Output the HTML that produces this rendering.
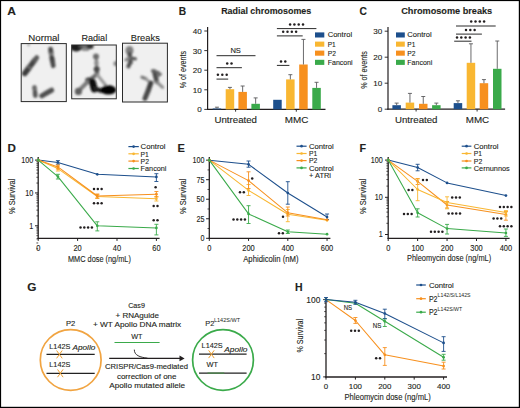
<!DOCTYPE html>
<html><head><meta charset="utf-8"><style>
html,body{margin:0;padding:0;background:#fff;}
svg{display:block;}
svg text{font-family:"Liberation Sans", sans-serif;stroke:#231f20;stroke-width:0.12px;paint-order:stroke;}
</style></head><body>
<svg width="520" height="408" viewBox="0 0 520 408">
<defs>
<filter id="bl" x="-20%" y="-20%" width="140%" height="140%"><feGaussianBlur stdDeviation="1.1"/></filter><filter id="bl2" x="-20%" y="-20%" width="140%" height="140%"><feGaussianBlur stdDeviation="1.2"/></filter>
</defs>
<rect x="0" y="0" width="520" height="408" fill="#fff"/>
<text x="7.3" y="15.4" font-size="10.4" font-weight="bold" textLength="8.7" lengthAdjust="spacingAndGlyphs" fill="#231f20">A</text>
<text x="28.3" y="40.7" font-size="9.7" textLength="31.2" lengthAdjust="spacingAndGlyphs" fill="#231f20">Normal</text>
<text x="81.4" y="40.7" font-size="9.7" textLength="25.8" lengthAdjust="spacingAndGlyphs" fill="#231f20">Radial</text>
<text x="130.8" y="40.7" font-size="9.7" textLength="29.0" lengthAdjust="spacingAndGlyphs" fill="#231f20">Breaks</text>
<clipPath id="cb0"><rect x="21.2" y="43.6" width="45.099999999999994" height="57.99999999999999"/></clipPath>
<rect x="21.2" y="43.6" width="45.099999999999994" height="57.99999999999999" fill="#f0f0f0"/>
<clipPath id="cb1"><rect x="71.7" y="45.0" width="44.599999999999994" height="53.8"/></clipPath>
<rect x="71.7" y="45.0" width="44.599999999999994" height="53.8" fill="#f0f0f0"/>
<clipPath id="cb2"><rect x="122.5" y="43.2" width="44.900000000000006" height="58.8"/></clipPath>
<rect x="122.5" y="43.2" width="44.900000000000006" height="58.8" fill="#f0f0f0"/>
<g clip-path="url(#cb0)"><g filter="url(#bl)" stroke-linecap="round" fill="none">
<path d="M24.8 73.4 L29.6 67.0" stroke="#3c3c3c" stroke-width="5.6"/>
<path d="M29.6 67.0 L31.4 64.6" stroke="#707070" stroke-width="4.0"/>
<path d="M31.4 64.6 L34.6 60.4" stroke="#444" stroke-width="5.4"/>
<path d="M34.8 60.2 L36.8 57.6" stroke="#5a5a5a" stroke-width="4.8"/>
<path d="M50.6 49.2 L51.2 53.6" stroke="#474747" stroke-width="4.8"/>
<path d="M51.3 54.6 L51.7 57.2" stroke="#7c7c7c" stroke-width="4.2"/>
<path d="M51.9 58.0 L52.5 61.2" stroke="#3e3e3e" stroke-width="4.9"/>
<path d="M52.6 62.2 L53.3 65.8" stroke="#4a4a4a" stroke-width="4.6"/>
<path d="M34.4 87.4 L34.7 89.4" stroke="#646464" stroke-width="4.6"/>
<path d="M34.9 90.6 L35.0 91.0" stroke="#888" stroke-width="3.2"/>
<path d="M35.0 92.0 L35.3 95.6" stroke="#545454" stroke-width="4.6"/>
<path d="M41.8 95.8 L45.6 93.6" stroke="#4e4e4e" stroke-width="5.0"/>
<path d="M46.6 93.0 L51.6 90.2" stroke="#505050" stroke-width="5.0"/>
<circle cx="28.6" cy="45.0" r="1.2" fill="#999"/>
</g></g>
<g clip-path="url(#cb1)"><g filter="url(#bl2)" stroke-linecap="round" fill="none">
<ellipse cx="76.2" cy="47.0" rx="6.4" ry="4.4" fill="#1a1a1a"/>
<path d="M80 46.2 L86 46.2" stroke="#555" stroke-width="3.0"/>
<ellipse cx="90.0" cy="46.3" rx="3.6" ry="2.8" fill="#333"/>
<path d="M83 49.5 L88 49.5" stroke="#777" stroke-width="2.5"/>
<path d="M96.2 56 L97.0 74.5" stroke="#8a8a8a" stroke-width="3.4"/>
<circle cx="96.0" cy="56.6" r="3.0" fill="#6a6a6a"/>
<circle cx="96.4" cy="63.0" r="2.3" fill="#8a8a8a"/>
<circle cx="96.7" cy="69.2" r="3.0" fill="#474747"/>
<circle cx="97.0" cy="73.6" r="2.4" fill="#5a5a5a"/>
<path d="M96.8 74.5 L88.5 80.6" stroke="#6a6a6a" stroke-width="3.8"/>
<circle cx="88.4" cy="80.8" r="3.2" fill="#333"/>
<path d="M88 81.5 L79 90.5" stroke="#7a7a7a" stroke-width="4.0"/>
<circle cx="78.4" cy="91.4" r="3.6" fill="#5e5e5e"/>
<path d="M97.5 75 L105.5 85" stroke="#9a9a9a" stroke-width="3.0"/>
<path d="M92.4 82.0 L94.2 89.0" stroke="#111" stroke-width="7.0"/>
<path d="M95 88.6 L101 90.6" stroke="#1a1a1a" stroke-width="4.6"/>
<ellipse cx="108.4" cy="89.9" rx="7.8" ry="4.6" fill="#050505"/>
<circle cx="116.0" cy="63.6" r="2.6" fill="#8a8a8a"/>
</g></g>
<g clip-path="url(#cb2)"><g filter="url(#bl)" stroke-linecap="round" fill="none">
<ellipse cx="129.5" cy="50.6" rx="4.0" ry="4.6" fill="#7e7e7e"/>
<path d="M129.6 54.0 L130.6 62.4" stroke="#4e4e4e" stroke-width="4.4"/>
<path d="M130.5 58.0 L135.4 58.8" stroke="#5a5a5a" stroke-width="3.2"/>
<path d="M129.0 58.2 L125.8 60.0" stroke="#808080" stroke-width="2.8"/>
<path d="M130.0 62.4 L128.4 66.4" stroke="#505050" stroke-width="4.0"/>
<path d="M154.3 71.6 L156.8 81.8" stroke="#484848" stroke-width="4.6"/>
<path d="M152.4 70.8 L158.6 72.6" stroke="#606060" stroke-width="3.0"/>
<path d="M157.8 76.2 L160.6 74.2" stroke="#6a6a6a" stroke-width="2.8"/>
<path d="M157.0 82.2 L162.6 87.4" stroke="#8a8a8a" stroke-width="3.0"/>
<path d="M142.0 77.2 L146.0 78.8" stroke="#777" stroke-width="3.2"/>
<path d="M146.4 79.4 L149.0 81.6" stroke="#999" stroke-width="2.8"/>
<path d="M150.8 83.0 L148.4 90.0" stroke="#3e3e3e" stroke-width="5.0"/>
<path d="M148.4 90.0 L145.0 98.4" stroke="#484848" stroke-width="5.0"/>
</g></g>
<rect x="21.2" y="43.6" width="45.099999999999994" height="57.99999999999999" fill="none" stroke="#2a2a2a" stroke-width="1"/>
<rect x="71.7" y="45.0" width="44.599999999999994" height="53.8" fill="none" stroke="#2a2a2a" stroke-width="1"/>
<rect x="122.5" y="43.2" width="44.900000000000006" height="58.8" fill="none" stroke="#2a2a2a" stroke-width="1"/>
<line x1="207.6" y1="110.0" x2="207.6" y2="27.0" stroke="#231f20" stroke-width="1.2"/>
<line x1="207.0" y1="109.4" x2="325.5" y2="109.4" stroke="#231f20" stroke-width="1.2"/>
<line x1="204.29999999999998" y1="109.4" x2="207.6" y2="109.4" stroke="#231f20" stroke-width="0.9"/>
<text x="201.7" y="112.30000000000001" font-size="8.1" text-anchor="end" fill="#231f20">0</text>
<line x1="204.29999999999998" y1="89.80000000000001" x2="207.6" y2="89.80000000000001" stroke="#231f20" stroke-width="0.9"/>
<text x="201.7" y="92.70000000000002" font-size="8.1" text-anchor="end" fill="#231f20">10</text>
<line x1="204.29999999999998" y1="70.2" x2="207.6" y2="70.2" stroke="#231f20" stroke-width="0.9"/>
<text x="201.7" y="73.10000000000001" font-size="8.1" text-anchor="end" fill="#231f20">20</text>
<line x1="204.29999999999998" y1="50.60000000000001" x2="207.6" y2="50.60000000000001" stroke="#231f20" stroke-width="0.9"/>
<text x="201.7" y="53.50000000000001" font-size="8.1" text-anchor="end" fill="#231f20">30</text>
<line x1="204.29999999999998" y1="31.0" x2="207.6" y2="31.0" stroke="#231f20" stroke-width="0.9"/>
<text x="201.7" y="33.9" font-size="8.1" text-anchor="end" fill="#231f20">40</text>
<line x1="235.6" y1="109.4" x2="235.6" y2="111.7" stroke="#231f20" stroke-width="0.9"/>
<line x1="296.3" y1="109.4" x2="296.3" y2="111.7" stroke="#231f20" stroke-width="0.9"/>
<text x="214.5" y="122.6" font-size="8.9" textLength="42.5" lengthAdjust="spacingAndGlyphs" fill="#231f20">Untreated</text>
<text x="284.8" y="122.6" font-size="8.9" textLength="23.6" lengthAdjust="spacingAndGlyphs" fill="#231f20">MMC</text>
<rect x="212.7" y="108.5" width="8.5" height="0.9000000000000057" fill="#1d4f8c"/>
<line x1="216.95" y1="108.5" x2="216.95" y2="107.2" stroke="#5a5a5c" stroke-width="0.9"/>
<line x1="214.95" y1="107.2" x2="218.95" y2="107.2" stroke="#5a5a5c" stroke-width="0.9"/>
<rect x="225.7" y="89.2" width="8.5" height="20.200000000000003" fill="#f9b732"/>
<line x1="229.95" y1="89.2" x2="229.95" y2="87.4" stroke="#5a5a5c" stroke-width="0.9"/>
<line x1="227.95" y1="87.4" x2="231.95" y2="87.4" stroke="#5a5a5c" stroke-width="0.9"/>
<rect x="238.4" y="91.9" width="8.5" height="17.5" fill="#f7901e"/>
<line x1="242.65" y1="91.9" x2="242.65" y2="86.0" stroke="#5a5a5c" stroke-width="0.9"/>
<line x1="240.65" y1="86.0" x2="244.65" y2="86.0" stroke="#5a5a5c" stroke-width="0.9"/>
<rect x="251.4" y="103.8" width="8.5" height="5.6000000000000085" fill="#3aaa4a"/>
<line x1="255.65" y1="103.8" x2="255.65" y2="97.9" stroke="#5a5a5c" stroke-width="0.9"/>
<line x1="253.65" y1="97.9" x2="257.65" y2="97.9" stroke="#5a5a5c" stroke-width="0.9"/>
<rect x="273.2" y="99.8" width="8.5" height="9.600000000000009" fill="#1d4f8c"/>
<rect x="286.1" y="79.4" width="8.5" height="30.0" fill="#f9b732"/>
<line x1="290.35" y1="79.4" x2="290.35" y2="74.7" stroke="#5a5a5c" stroke-width="0.9"/>
<line x1="288.35" y1="74.7" x2="292.35" y2="74.7" stroke="#5a5a5c" stroke-width="0.9"/>
<rect x="299.2" y="64.5" width="8.5" height="44.900000000000006" fill="#f7901e"/>
<line x1="303.45" y1="64.5" x2="303.45" y2="39.4" stroke="#5a5a5c" stroke-width="0.9"/>
<line x1="301.45" y1="39.4" x2="305.45" y2="39.4" stroke="#5a5a5c" stroke-width="0.9"/>
<rect x="312.3" y="87.9" width="8.5" height="21.5" fill="#3aaa4a"/>
<line x1="316.55" y1="87.9" x2="316.55" y2="82.3" stroke="#5a5a5c" stroke-width="0.9"/>
<line x1="314.55" y1="82.3" x2="318.55" y2="82.3" stroke="#5a5a5c" stroke-width="0.9"/>
<text x="221.2" y="14.4" font-size="9.3" font-weight="bold" textLength="90.0" lengthAdjust="spacingAndGlyphs" fill="#231f20">Radial chromosomes</text>
<text x="178.8" y="15.1" font-size="10" font-weight="bold" textLength="7.4" lengthAdjust="spacingAndGlyphs" fill="#231f20">B</text>
<text x="0" y="0" font-size="8.6" text-anchor="middle" textLength="37.5" lengthAdjust="spacingAndGlyphs" fill="#231f20" transform="translate(186.3,69.6) rotate(-90)">% of events</text>
<rect x="315.0" y="32.4" width="9.3" height="5.1" fill="#1d4f8c"/>
<text x="327.7" y="37.4" font-size="7.9" textLength="24.4" lengthAdjust="spacingAndGlyphs" fill="#231f20">Control</text>
<rect x="315.0" y="41.6" width="9.3" height="5.1" fill="#f9b732"/>
<text x="327.7" y="46.6" font-size="7.9" textLength="8.0" lengthAdjust="spacingAndGlyphs" fill="#231f20">P1</text>
<rect x="315.0" y="50.6" width="9.3" height="5.1" fill="#f7901e"/>
<text x="327.7" y="55.6" font-size="7.9" textLength="8.2" lengthAdjust="spacingAndGlyphs" fill="#231f20">P2</text>
<rect x="315.0" y="59.8" width="9.3" height="5.1" fill="#3aaa4a"/>
<text x="327.7" y="64.8" font-size="7.9" textLength="25.0" lengthAdjust="spacingAndGlyphs" fill="#231f20">Fanconi</text>
<line x1="216.5" y1="55.7" x2="255.5" y2="55.7" stroke="#2a2a2a" stroke-width="1.0"/>
<text x="230.4" y="53.0" font-size="7.8" textLength="10.5" lengthAdjust="spacingAndGlyphs" fill="#231f20">NS</text>
<line x1="216.5" y1="67.7" x2="241.9" y2="67.7" stroke="#2a2a2a" stroke-width="1.0"/>
<circle cx="227.20" cy="63.60" r="1.25" fill="#231f20"/>
<circle cx="231.50" cy="63.60" r="1.25" fill="#231f20"/>
<line x1="216.5" y1="79.1" x2="228.2" y2="79.1" stroke="#2a2a2a" stroke-width="1.0"/>
<circle cx="217.90" cy="74.80" r="1.25" fill="#231f20"/>
<circle cx="222.30" cy="74.80" r="1.25" fill="#231f20"/>
<circle cx="226.70" cy="74.80" r="1.25" fill="#231f20"/>
<line x1="276.9" y1="28.6" x2="316.4" y2="28.6" stroke="#2a2a2a" stroke-width="1.0"/>
<circle cx="290.10" cy="24.50" r="1.25" fill="#231f20"/>
<circle cx="294.40" cy="24.50" r="1.25" fill="#231f20"/>
<circle cx="298.70" cy="24.50" r="1.25" fill="#231f20"/>
<circle cx="303.00" cy="24.50" r="1.25" fill="#231f20"/>
<line x1="276.9" y1="35.9" x2="302.7" y2="35.9" stroke="#2a2a2a" stroke-width="1.0"/>
<circle cx="283.20" cy="31.80" r="1.25" fill="#231f20"/>
<circle cx="287.50" cy="31.80" r="1.25" fill="#231f20"/>
<circle cx="291.80" cy="31.80" r="1.25" fill="#231f20"/>
<circle cx="296.10" cy="31.80" r="1.25" fill="#231f20"/>
<line x1="276.9" y1="65.4" x2="289.4" y2="65.4" stroke="#2a2a2a" stroke-width="1.0"/>
<circle cx="281.00" cy="61.40" r="1.25" fill="#231f20"/>
<circle cx="285.30" cy="61.40" r="1.25" fill="#231f20"/>
<line x1="388.0" y1="109.8" x2="388.0" y2="27.0" stroke="#231f20" stroke-width="1.2"/>
<line x1="387.4" y1="109.2" x2="505.1" y2="109.2" stroke="#231f20" stroke-width="1.2"/>
<line x1="384.7" y1="109.2" x2="388.0" y2="109.2" stroke="#231f20" stroke-width="0.9"/>
<text x="382.2" y="112.10000000000001" font-size="8.1" text-anchor="end" fill="#231f20">0</text>
<line x1="384.7" y1="83.2" x2="388.0" y2="83.2" stroke="#231f20" stroke-width="0.9"/>
<text x="382.2" y="86.10000000000001" font-size="8.1" text-anchor="end" fill="#231f20">10</text>
<line x1="384.7" y1="57.2" x2="388.0" y2="57.2" stroke="#231f20" stroke-width="0.9"/>
<text x="382.2" y="60.1" font-size="8.1" text-anchor="end" fill="#231f20">20</text>
<line x1="384.7" y1="31.200000000000003" x2="388.0" y2="31.200000000000003" stroke="#231f20" stroke-width="0.9"/>
<text x="382.2" y="34.1" font-size="8.1" text-anchor="end" fill="#231f20">30</text>
<line x1="416.1" y1="109.2" x2="416.1" y2="111.5" stroke="#231f20" stroke-width="0.9"/>
<line x1="477.1" y1="109.2" x2="477.1" y2="111.5" stroke="#231f20" stroke-width="0.9"/>
<text x="395.0" y="122.6" font-size="8.9" textLength="42.5" lengthAdjust="spacingAndGlyphs" fill="#231f20">Untreated</text>
<text x="465.8" y="122.6" font-size="8.9" textLength="23.4" lengthAdjust="spacingAndGlyphs" fill="#231f20">MMC</text>
<rect x="392.4" y="105.2" width="8.5" height="4.0" fill="#1d4f8c"/>
<line x1="396.65" y1="105.2" x2="396.65" y2="103.1" stroke="#5a5a5c" stroke-width="0.9"/>
<line x1="394.65" y1="103.1" x2="398.65" y2="103.1" stroke="#5a5a5c" stroke-width="0.9"/>
<rect x="405.7" y="102.6" width="8.5" height="6.6000000000000085" fill="#f9b732"/>
<line x1="409.95" y1="102.6" x2="409.95" y2="93.4" stroke="#5a5a5c" stroke-width="0.9"/>
<line x1="407.95" y1="93.4" x2="411.95" y2="93.4" stroke="#5a5a5c" stroke-width="0.9"/>
<rect x="419.0" y="103.8" width="8.5" height="5.400000000000006" fill="#f7901e"/>
<line x1="423.25" y1="103.8" x2="423.25" y2="96.5" stroke="#5a5a5c" stroke-width="0.9"/>
<line x1="421.25" y1="96.5" x2="425.25" y2="96.5" stroke="#5a5a5c" stroke-width="0.9"/>
<rect x="432.1" y="105.2" width="8.5" height="4.0" fill="#3aaa4a"/>
<line x1="436.35" y1="105.2" x2="436.35" y2="103.1" stroke="#5a5a5c" stroke-width="0.9"/>
<line x1="434.35" y1="103.1" x2="438.35" y2="103.1" stroke="#5a5a5c" stroke-width="0.9"/>
<rect x="453.7" y="103.1" width="8.5" height="6.1000000000000085" fill="#1d4f8c"/>
<line x1="457.95" y1="103.1" x2="457.95" y2="100.8" stroke="#5a5a5c" stroke-width="0.9"/>
<line x1="455.95" y1="100.8" x2="459.95" y2="100.8" stroke="#5a5a5c" stroke-width="0.9"/>
<rect x="466.7" y="62.8" width="8.5" height="46.400000000000006" fill="#f9b732"/>
<line x1="470.95" y1="62.8" x2="470.95" y2="43.8" stroke="#5a5a5c" stroke-width="0.9"/>
<line x1="468.95" y1="43.8" x2="472.95" y2="43.8" stroke="#5a5a5c" stroke-width="0.9"/>
<rect x="479.7" y="83.2" width="8.5" height="26.0" fill="#f7901e"/>
<line x1="483.95" y1="83.2" x2="483.95" y2="79.6" stroke="#5a5a5c" stroke-width="0.9"/>
<line x1="481.95" y1="79.6" x2="485.95" y2="79.6" stroke="#5a5a5c" stroke-width="0.9"/>
<rect x="493.0" y="68.8" width="8.5" height="40.400000000000006" fill="#3aaa4a"/>
<line x1="497.25" y1="68.8" x2="497.25" y2="41.0" stroke="#5a5a5c" stroke-width="0.9"/>
<line x1="495.25" y1="41.0" x2="499.25" y2="41.0" stroke="#5a5a5c" stroke-width="0.9"/>
<text x="401.2" y="14.4" font-size="9.3" font-weight="bold" textLength="91.0" lengthAdjust="spacingAndGlyphs" fill="#231f20">Chromosome breaks</text>
<text x="359.4" y="15.1" font-size="10" font-weight="bold" textLength="7.4" lengthAdjust="spacingAndGlyphs" fill="#231f20">C</text>
<text x="0" y="0" font-size="8.6" text-anchor="middle" textLength="37.5" lengthAdjust="spacingAndGlyphs" fill="#231f20" transform="translate(367.4,70.0) rotate(-90)">% of events</text>
<rect x="396.0" y="32.4" width="8.8" height="5.1" fill="#1d4f8c"/>
<text x="407.3" y="37.4" font-size="7.9" textLength="24.4" lengthAdjust="spacingAndGlyphs" fill="#231f20">Control</text>
<rect x="396.0" y="41.6" width="8.8" height="5.1" fill="#f9b732"/>
<text x="407.3" y="46.6" font-size="7.9" textLength="8.0" lengthAdjust="spacingAndGlyphs" fill="#231f20">P1</text>
<rect x="396.0" y="50.6" width="8.8" height="5.1" fill="#f7901e"/>
<text x="407.3" y="55.6" font-size="7.9" textLength="8.2" lengthAdjust="spacingAndGlyphs" fill="#231f20">P2</text>
<rect x="396.0" y="59.8" width="8.8" height="5.1" fill="#3aaa4a"/>
<text x="407.3" y="64.8" font-size="7.9" textLength="25.0" lengthAdjust="spacingAndGlyphs" fill="#231f20">Fanconi</text>
<line x1="456.0" y1="26.0" x2="495.7" y2="26.0" stroke="#2a2a2a" stroke-width="1.0"/>
<circle cx="471.20" cy="21.60" r="1.25" fill="#231f20"/>
<circle cx="475.50" cy="21.60" r="1.25" fill="#231f20"/>
<circle cx="479.80" cy="21.60" r="1.25" fill="#231f20"/>
<circle cx="484.10" cy="21.60" r="1.25" fill="#231f20"/>
<line x1="456.0" y1="34.1" x2="481.9" y2="34.1" stroke="#2a2a2a" stroke-width="1.0"/>
<circle cx="466.00" cy="29.90" r="1.25" fill="#231f20"/>
<circle cx="470.30" cy="29.90" r="1.25" fill="#231f20"/>
<circle cx="474.60" cy="29.90" r="1.25" fill="#231f20"/>
<line x1="454.2" y1="41.2" x2="471.5" y2="41.2" stroke="#2a2a2a" stroke-width="1.0"/>
<circle cx="457.00" cy="37.50" r="1.25" fill="#231f20"/>
<circle cx="461.30" cy="37.50" r="1.25" fill="#231f20"/>
<circle cx="465.60" cy="37.50" r="1.25" fill="#231f20"/>
<circle cx="469.90" cy="37.50" r="1.25" fill="#231f20"/>
<text x="7.6" y="152.1" font-size="10" font-weight="bold" textLength="8.4" lengthAdjust="spacingAndGlyphs" fill="#231f20">D</text>
<line x1="38.2" y1="238.9" x2="38.2" y2="157.0" stroke="#231f20" stroke-width="1.3"/>
<line x1="37.6" y1="238.3" x2="159.6" y2="238.3" stroke="#231f20" stroke-width="1.3"/>
<line x1="35.0" y1="160.1" x2="38.2" y2="160.1" stroke="#231f20" stroke-width="1.0"/>
<text x="33.2" y="163.0" font-size="8.2" text-anchor="end" textLength="12.0" lengthAdjust="spacingAndGlyphs" fill="#231f20">100</text>
<line x1="35.0" y1="192.95" x2="38.2" y2="192.95" stroke="#231f20" stroke-width="1.0"/>
<text x="33.2" y="195.85" font-size="8.2" text-anchor="end" textLength="8.0" lengthAdjust="spacingAndGlyphs" fill="#231f20">10</text>
<line x1="35.0" y1="225.8" x2="38.2" y2="225.8" stroke="#231f20" stroke-width="1.0"/>
<text x="33.2" y="228.70000000000002" font-size="8.2" text-anchor="end" textLength="4.0" lengthAdjust="spacingAndGlyphs" fill="#231f20">1</text>
<line x1="36.400000000000006" y1="248.76116464243822" x2="38.2" y2="248.76116464243822" stroke="#231f20" stroke-width="0.8"/>
<line x1="36.400000000000006" y1="242.9765667824591" x2="38.2" y2="242.9765667824591" stroke="#231f20" stroke-width="0.8"/>
<line x1="36.400000000000006" y1="238.87232928487643" x2="38.2" y2="238.87232928487643" stroke="#231f20" stroke-width="0.8"/>
<line x1="36.400000000000006" y1="235.6888353575618" x2="38.2" y2="235.6888353575618" stroke="#231f20" stroke-width="0.8"/>
<line x1="36.400000000000006" y1="233.0877314248973" x2="38.2" y2="233.0877314248973" stroke="#231f20" stroke-width="0.8"/>
<line x1="36.400000000000006" y1="230.88852938553165" x2="38.2" y2="230.88852938553165" stroke="#231f20" stroke-width="0.8"/>
<line x1="36.400000000000006" y1="228.98349392731464" x2="38.2" y2="228.98349392731464" stroke="#231f20" stroke-width="0.8"/>
<line x1="36.400000000000006" y1="227.3031335649182" x2="38.2" y2="227.3031335649182" stroke="#231f20" stroke-width="0.8"/>
<line x1="36.400000000000006" y1="215.91116464243822" x2="38.2" y2="215.91116464243822" stroke="#231f20" stroke-width="0.8"/>
<line x1="36.400000000000006" y1="210.1265667824591" x2="38.2" y2="210.1265667824591" stroke="#231f20" stroke-width="0.8"/>
<line x1="36.400000000000006" y1="206.02232928487643" x2="38.2" y2="206.02232928487643" stroke="#231f20" stroke-width="0.8"/>
<line x1="36.400000000000006" y1="202.83883535756178" x2="38.2" y2="202.83883535756178" stroke="#231f20" stroke-width="0.8"/>
<line x1="36.400000000000006" y1="200.2377314248973" x2="38.2" y2="200.2377314248973" stroke="#231f20" stroke-width="0.8"/>
<line x1="36.400000000000006" y1="198.03852938553166" x2="38.2" y2="198.03852938553166" stroke="#231f20" stroke-width="0.8"/>
<line x1="36.400000000000006" y1="196.13349392731465" x2="38.2" y2="196.13349392731465" stroke="#231f20" stroke-width="0.8"/>
<line x1="36.400000000000006" y1="194.45313356491818" x2="38.2" y2="194.45313356491818" stroke="#231f20" stroke-width="0.8"/>
<line x1="36.400000000000006" y1="183.0611646424382" x2="38.2" y2="183.0611646424382" stroke="#231f20" stroke-width="0.8"/>
<line x1="36.400000000000006" y1="177.2765667824591" x2="38.2" y2="177.2765667824591" stroke="#231f20" stroke-width="0.8"/>
<line x1="36.400000000000006" y1="173.1723292848764" x2="38.2" y2="173.1723292848764" stroke="#231f20" stroke-width="0.8"/>
<line x1="36.400000000000006" y1="169.98883535756178" x2="38.2" y2="169.98883535756178" stroke="#231f20" stroke-width="0.8"/>
<line x1="36.400000000000006" y1="167.3877314248973" x2="38.2" y2="167.3877314248973" stroke="#231f20" stroke-width="0.8"/>
<line x1="36.400000000000006" y1="165.18852938553167" x2="38.2" y2="165.18852938553167" stroke="#231f20" stroke-width="0.8"/>
<line x1="36.400000000000006" y1="163.28349392731465" x2="38.2" y2="163.28349392731465" stroke="#231f20" stroke-width="0.8"/>
<line x1="36.400000000000006" y1="161.60313356491818" x2="38.2" y2="161.60313356491818" stroke="#231f20" stroke-width="0.8"/>
<line x1="38.2" y1="238.3" x2="38.2" y2="240.9" stroke="#231f20" stroke-width="1.0"/>
<text x="38.2" y="250.8" font-size="8.3" text-anchor="middle" textLength="4.15" lengthAdjust="spacingAndGlyphs" fill="#231f20">0</text>
<line x1="77.6" y1="238.3" x2="77.6" y2="240.9" stroke="#231f20" stroke-width="1.0"/>
<text x="77.6" y="250.8" font-size="8.3" text-anchor="middle" textLength="8.3" lengthAdjust="spacingAndGlyphs" fill="#231f20">20</text>
<line x1="117.0" y1="238.3" x2="117.0" y2="240.9" stroke="#231f20" stroke-width="1.0"/>
<text x="117.0" y="250.8" font-size="8.3" text-anchor="middle" textLength="8.3" lengthAdjust="spacingAndGlyphs" fill="#231f20">40</text>
<line x1="156.4" y1="238.3" x2="156.4" y2="240.9" stroke="#231f20" stroke-width="1.0"/>
<text x="156.4" y="250.8" font-size="8.3" text-anchor="middle" textLength="8.3" lengthAdjust="spacingAndGlyphs" fill="#231f20">60</text>
<text x="0" y="0" font-size="9.0" text-anchor="middle" textLength="35.3" lengthAdjust="spacingAndGlyphs" fill="#231f20" transform="translate(15.0,196.3) rotate(-90)">% Survival</text>
<text x="68.0" y="262.2" font-size="9.2" textLength="62.9" lengthAdjust="spacingAndGlyphs" fill="#231f20">MMC dose (ng/mL)</text>
<path d="M38.20 160.10 L57.90 162.40 L97.30 174.30 L156.40 176.90" fill="none" stroke="#1d4f8c" stroke-width="1.05" stroke-linejoin="round"/>
<line x1="57.900000000000006" y1="160.6" x2="57.900000000000006" y2="164.2" stroke="#1d4f8c" stroke-width="0.9"/>
<line x1="55.900000000000006" y1="160.6" x2="59.900000000000006" y2="160.6" stroke="#1d4f8c" stroke-width="0.9"/>
<line x1="55.900000000000006" y1="164.2" x2="59.900000000000006" y2="164.2" stroke="#1d4f8c" stroke-width="0.9"/>
<line x1="156.4" y1="173.7" x2="156.4" y2="181.5" stroke="#1d4f8c" stroke-width="0.9"/>
<line x1="154.4" y1="173.7" x2="158.4" y2="173.7" stroke="#1d4f8c" stroke-width="0.9"/>
<line x1="154.4" y1="181.5" x2="158.4" y2="181.5" stroke="#1d4f8c" stroke-width="0.9"/>
<circle cx="38.20" cy="160.10" r="1.35" fill="#1d4f8c"/>
<circle cx="57.90" cy="162.40" r="1.35" fill="#1d4f8c"/>
<circle cx="97.30" cy="174.30" r="1.35" fill="#1d4f8c"/>
<circle cx="156.40" cy="176.90" r="1.35" fill="#1d4f8c"/>
<path d="M38.20 160.10 L57.90 168.60 L97.30 196.50 L156.40 198.80" fill="none" stroke="#f9b732" stroke-width="1.05" stroke-linejoin="round"/>
<line x1="57.900000000000006" y1="166.2" x2="57.900000000000006" y2="171.0" stroke="#f9b732" stroke-width="0.9"/>
<line x1="55.900000000000006" y1="166.2" x2="59.900000000000006" y2="166.2" stroke="#f9b732" stroke-width="0.9"/>
<line x1="55.900000000000006" y1="171.0" x2="59.900000000000006" y2="171.0" stroke="#f9b732" stroke-width="0.9"/>
<line x1="97.30000000000001" y1="194.5" x2="97.30000000000001" y2="198.5" stroke="#f9b732" stroke-width="0.9"/>
<line x1="95.30000000000001" y1="194.5" x2="99.30000000000001" y2="194.5" stroke="#f9b732" stroke-width="0.9"/>
<line x1="95.30000000000001" y1="198.5" x2="99.30000000000001" y2="198.5" stroke="#f9b732" stroke-width="0.9"/>
<line x1="156.4" y1="196.5" x2="156.4" y2="201.0" stroke="#f9b732" stroke-width="0.9"/>
<line x1="154.4" y1="196.5" x2="158.4" y2="196.5" stroke="#f9b732" stroke-width="0.9"/>
<line x1="154.4" y1="201.0" x2="158.4" y2="201.0" stroke="#f9b732" stroke-width="0.9"/>
<circle cx="38.20" cy="160.10" r="1.35" fill="#f9b732"/>
<circle cx="57.90" cy="168.60" r="1.35" fill="#f9b732"/>
<circle cx="97.30" cy="196.50" r="1.35" fill="#f9b732"/>
<circle cx="156.40" cy="198.80" r="1.35" fill="#f9b732"/>
<path d="M38.20 160.10 L57.90 166.90 L97.30 196.00 L156.40 194.20" fill="none" stroke="#f7901e" stroke-width="1.05" stroke-linejoin="round"/>
<line x1="57.900000000000006" y1="165.0" x2="57.900000000000006" y2="169.0" stroke="#f7901e" stroke-width="0.9"/>
<line x1="55.900000000000006" y1="165.0" x2="59.900000000000006" y2="165.0" stroke="#f7901e" stroke-width="0.9"/>
<line x1="55.900000000000006" y1="169.0" x2="59.900000000000006" y2="169.0" stroke="#f7901e" stroke-width="0.9"/>
<line x1="97.30000000000001" y1="194.0" x2="97.30000000000001" y2="198.0" stroke="#f7901e" stroke-width="0.9"/>
<line x1="95.30000000000001" y1="194.0" x2="99.30000000000001" y2="194.0" stroke="#f7901e" stroke-width="0.9"/>
<line x1="95.30000000000001" y1="198.0" x2="99.30000000000001" y2="198.0" stroke="#f7901e" stroke-width="0.9"/>
<line x1="156.4" y1="191.5" x2="156.4" y2="197.0" stroke="#f7901e" stroke-width="0.9"/>
<line x1="154.4" y1="191.5" x2="158.4" y2="191.5" stroke="#f7901e" stroke-width="0.9"/>
<line x1="154.4" y1="197.0" x2="158.4" y2="197.0" stroke="#f7901e" stroke-width="0.9"/>
<circle cx="38.20" cy="160.10" r="1.35" fill="#f7901e"/>
<circle cx="57.90" cy="166.90" r="1.35" fill="#f7901e"/>
<circle cx="97.30" cy="196.00" r="1.35" fill="#f7901e"/>
<circle cx="156.40" cy="194.20" r="1.35" fill="#f7901e"/>
<path d="M38.20 160.10 L57.90 176.60 L97.30 225.80 L156.40 227.90" fill="none" stroke="#3aaa4a" stroke-width="1.05" stroke-linejoin="round"/>
<line x1="57.900000000000006" y1="174.3" x2="57.900000000000006" y2="179.0" stroke="#3aaa4a" stroke-width="0.9"/>
<line x1="55.900000000000006" y1="174.3" x2="59.900000000000006" y2="174.3" stroke="#3aaa4a" stroke-width="0.9"/>
<line x1="55.900000000000006" y1="179.0" x2="59.900000000000006" y2="179.0" stroke="#3aaa4a" stroke-width="0.9"/>
<line x1="97.30000000000001" y1="221.8" x2="97.30000000000001" y2="230.9" stroke="#3aaa4a" stroke-width="0.9"/>
<line x1="95.30000000000001" y1="221.8" x2="99.30000000000001" y2="221.8" stroke="#3aaa4a" stroke-width="0.9"/>
<line x1="95.30000000000001" y1="230.9" x2="99.30000000000001" y2="230.9" stroke="#3aaa4a" stroke-width="0.9"/>
<line x1="156.4" y1="224.3" x2="156.4" y2="234.9" stroke="#3aaa4a" stroke-width="0.9"/>
<line x1="154.4" y1="224.3" x2="158.4" y2="224.3" stroke="#3aaa4a" stroke-width="0.9"/>
<line x1="154.4" y1="234.9" x2="158.4" y2="234.9" stroke="#3aaa4a" stroke-width="0.9"/>
<circle cx="38.20" cy="160.10" r="1.35" fill="#3aaa4a"/>
<circle cx="57.90" cy="176.60" r="1.35" fill="#3aaa4a"/>
<circle cx="97.30" cy="225.80" r="1.35" fill="#3aaa4a"/>
<circle cx="156.40" cy="227.90" r="1.35" fill="#3aaa4a"/>
<line x1="128.4" y1="146.6" x2="138.8" y2="146.6" stroke="#1d4f8c" stroke-width="1.2"/>
<circle cx="133.60" cy="146.6" r="1.35" fill="#1d4f8c"/>
<text x="140.6" y="149.35" font-size="7.9" textLength="25.0" lengthAdjust="spacingAndGlyphs" fill="#231f20">Control</text>
<line x1="128.4" y1="153.8" x2="138.8" y2="153.8" stroke="#f9b732" stroke-width="1.2"/>
<circle cx="133.60" cy="153.8" r="1.35" fill="#f9b732"/>
<text x="140.6" y="156.55" font-size="7.9" textLength="8.2" lengthAdjust="spacingAndGlyphs" fill="#231f20">P1</text>
<line x1="128.4" y1="161.1" x2="138.8" y2="161.1" stroke="#f7901e" stroke-width="1.2"/>
<circle cx="133.60" cy="161.1" r="1.35" fill="#f7901e"/>
<text x="140.6" y="163.85" font-size="7.9" textLength="8.4" lengthAdjust="spacingAndGlyphs" fill="#231f20">P2</text>
<line x1="128.4" y1="168.5" x2="138.8" y2="168.5" stroke="#3aaa4a" stroke-width="1.2"/>
<circle cx="133.60" cy="168.5" r="1.35" fill="#3aaa4a"/>
<text x="140.6" y="171.25" font-size="7.9" textLength="25.9" lengthAdjust="spacingAndGlyphs" fill="#231f20">Fanconi</text>
<circle cx="94.00" cy="189.00" r="1.25" fill="#231f20"/>
<circle cx="97.80" cy="189.00" r="1.25" fill="#231f20"/>
<circle cx="101.60" cy="189.00" r="1.25" fill="#231f20"/>
<circle cx="94.00" cy="203.30" r="1.25" fill="#231f20"/>
<circle cx="97.80" cy="203.30" r="1.25" fill="#231f20"/>
<circle cx="101.60" cy="203.30" r="1.25" fill="#231f20"/>
<circle cx="155.60" cy="187.30" r="1.25" fill="#231f20"/>
<circle cx="153.70" cy="206.00" r="1.25" fill="#231f20"/>
<circle cx="157.50" cy="206.00" r="1.25" fill="#231f20"/>
<circle cx="153.70" cy="220.30" r="1.25" fill="#231f20"/>
<circle cx="157.50" cy="220.30" r="1.25" fill="#231f20"/>
<circle cx="80.50" cy="227.60" r="1.25" fill="#231f20"/>
<circle cx="84.30" cy="227.60" r="1.25" fill="#231f20"/>
<circle cx="88.10" cy="227.60" r="1.25" fill="#231f20"/>
<circle cx="91.90" cy="227.60" r="1.25" fill="#231f20"/>
<text x="177.6" y="152.1" font-size="10" font-weight="bold" textLength="7.4" lengthAdjust="spacingAndGlyphs" fill="#231f20">E</text>
<line x1="209.3" y1="238.9" x2="209.3" y2="157.0" stroke="#231f20" stroke-width="1.3"/>
<line x1="208.70000000000002" y1="238.3" x2="330.4" y2="238.3" stroke="#231f20" stroke-width="1.3"/>
<line x1="206.10000000000002" y1="160.15000000000003" x2="209.3" y2="160.15000000000003" stroke="#231f20" stroke-width="1.0"/>
<text x="204.4" y="163.05000000000004" font-size="8.2" text-anchor="end" textLength="12.0" lengthAdjust="spacingAndGlyphs" fill="#231f20">100</text>
<line x1="206.10000000000002" y1="179.6875" x2="209.3" y2="179.6875" stroke="#231f20" stroke-width="1.0"/>
<text x="204.4" y="182.5875" font-size="8.2" text-anchor="end" textLength="8.0" lengthAdjust="spacingAndGlyphs" fill="#231f20">75</text>
<line x1="206.10000000000002" y1="199.22500000000002" x2="209.3" y2="199.22500000000002" stroke="#231f20" stroke-width="1.0"/>
<text x="204.4" y="202.12500000000003" font-size="8.2" text-anchor="end" textLength="8.0" lengthAdjust="spacingAndGlyphs" fill="#231f20">50</text>
<line x1="206.10000000000002" y1="218.76250000000002" x2="209.3" y2="218.76250000000002" stroke="#231f20" stroke-width="1.0"/>
<text x="204.4" y="221.66250000000002" font-size="8.2" text-anchor="end" textLength="8.0" lengthAdjust="spacingAndGlyphs" fill="#231f20">25</text>
<line x1="206.10000000000002" y1="238.3" x2="209.3" y2="238.3" stroke="#231f20" stroke-width="1.0"/>
<text x="204.4" y="241.20000000000002" font-size="8.2" text-anchor="end" textLength="4.0" lengthAdjust="spacingAndGlyphs" fill="#231f20">0</text>
<line x1="207.5" y1="169.91875000000002" x2="209.3" y2="169.91875000000002" stroke="#231f20" stroke-width="0.8"/>
<line x1="207.5" y1="189.45625" x2="209.3" y2="189.45625" stroke="#231f20" stroke-width="0.8"/>
<line x1="207.5" y1="208.99375" x2="209.3" y2="208.99375" stroke="#231f20" stroke-width="0.8"/>
<line x1="207.5" y1="228.53125" x2="209.3" y2="228.53125" stroke="#231f20" stroke-width="0.8"/>
<line x1="209.3" y1="238.3" x2="209.3" y2="240.9" stroke="#231f20" stroke-width="1.0"/>
<text x="209.3" y="250.8" font-size="8.3" text-anchor="middle" textLength="4.15" lengthAdjust="spacingAndGlyphs" fill="#231f20">0</text>
<line x1="248.55" y1="238.3" x2="248.55" y2="240.9" stroke="#231f20" stroke-width="1.0"/>
<text x="248.55" y="250.8" font-size="8.3" text-anchor="middle" textLength="12.450000000000001" lengthAdjust="spacingAndGlyphs" fill="#231f20">200</text>
<line x1="287.8" y1="238.3" x2="287.8" y2="240.9" stroke="#231f20" stroke-width="1.0"/>
<text x="287.8" y="250.8" font-size="8.3" text-anchor="middle" textLength="12.450000000000001" lengthAdjust="spacingAndGlyphs" fill="#231f20">400</text>
<line x1="327.05" y1="238.3" x2="327.05" y2="240.9" stroke="#231f20" stroke-width="1.0"/>
<text x="327.05" y="250.8" font-size="8.3" text-anchor="middle" textLength="12.450000000000001" lengthAdjust="spacingAndGlyphs" fill="#231f20">600</text>
<text x="0" y="0" font-size="9.0" text-anchor="middle" textLength="35.3" lengthAdjust="spacingAndGlyphs" fill="#231f20" transform="translate(185.9,196.3) rotate(-90)">% Survival</text>
<text x="243.2" y="261.8" font-size="9.2" textLength="55.4" lengthAdjust="spacingAndGlyphs" fill="#231f20">Aphidicolin (nM)</text>
<path d="M209.30 160.15 L248.55 164.30 L287.80 193.00 L327.05 217.00" fill="none" stroke="#1d4f8c" stroke-width="1.05" stroke-linejoin="round"/>
<line x1="248.55" y1="161.0" x2="248.55" y2="167.2" stroke="#1d4f8c" stroke-width="0.9"/>
<line x1="246.55" y1="161.0" x2="250.55" y2="161.0" stroke="#1d4f8c" stroke-width="0.9"/>
<line x1="246.55" y1="167.2" x2="250.55" y2="167.2" stroke="#1d4f8c" stroke-width="0.9"/>
<line x1="287.8" y1="181.7" x2="287.8" y2="204.2" stroke="#1d4f8c" stroke-width="0.9"/>
<line x1="285.8" y1="181.7" x2="289.8" y2="181.7" stroke="#1d4f8c" stroke-width="0.9"/>
<line x1="285.8" y1="204.2" x2="289.8" y2="204.2" stroke="#1d4f8c" stroke-width="0.9"/>
<line x1="327.05" y1="214.0" x2="327.05" y2="219.5" stroke="#1d4f8c" stroke-width="0.9"/>
<line x1="325.05" y1="214.0" x2="329.05" y2="214.0" stroke="#1d4f8c" stroke-width="0.9"/>
<line x1="325.05" y1="219.5" x2="329.05" y2="219.5" stroke="#1d4f8c" stroke-width="0.9"/>
<circle cx="209.30" cy="160.15" r="1.35" fill="#1d4f8c"/>
<circle cx="248.55" cy="164.30" r="1.35" fill="#1d4f8c"/>
<circle cx="287.80" cy="193.00" r="1.35" fill="#1d4f8c"/>
<circle cx="327.05" cy="217.00" r="1.35" fill="#1d4f8c"/>
<path d="M209.30 160.15 L248.55 190.40 L287.80 214.30 L327.05 220.30" fill="none" stroke="#f9b732" stroke-width="1.05" stroke-linejoin="round"/>
<line x1="248.55" y1="184.5" x2="248.55" y2="195.5" stroke="#f9b732" stroke-width="0.9"/>
<line x1="246.55" y1="184.5" x2="250.55" y2="184.5" stroke="#f9b732" stroke-width="0.9"/>
<line x1="246.55" y1="195.5" x2="250.55" y2="195.5" stroke="#f9b732" stroke-width="0.9"/>
<line x1="287.8" y1="209.5" x2="287.8" y2="221.7" stroke="#f9b732" stroke-width="0.9"/>
<line x1="285.8" y1="209.5" x2="289.8" y2="209.5" stroke="#f9b732" stroke-width="0.9"/>
<line x1="285.8" y1="221.7" x2="289.8" y2="221.7" stroke="#f9b732" stroke-width="0.9"/>
<circle cx="209.30" cy="160.15" r="1.35" fill="#f9b732"/>
<circle cx="248.55" cy="190.40" r="1.35" fill="#f9b732"/>
<circle cx="287.80" cy="214.30" r="1.35" fill="#f9b732"/>
<circle cx="327.05" cy="220.30" r="1.35" fill="#f9b732"/>
<path d="M209.30 160.15 L248.55 180.60 L287.80 212.80 L327.05 219.80" fill="none" stroke="#f7901e" stroke-width="1.05" stroke-linejoin="round"/>
<line x1="248.55" y1="171.8" x2="248.55" y2="188.5" stroke="#f7901e" stroke-width="0.9"/>
<line x1="246.55" y1="171.8" x2="250.55" y2="171.8" stroke="#f7901e" stroke-width="0.9"/>
<line x1="246.55" y1="188.5" x2="250.55" y2="188.5" stroke="#f7901e" stroke-width="0.9"/>
<line x1="287.8" y1="207.0" x2="287.8" y2="216.0" stroke="#f7901e" stroke-width="0.9"/>
<line x1="285.8" y1="207.0" x2="289.8" y2="207.0" stroke="#f7901e" stroke-width="0.9"/>
<line x1="285.8" y1="216.0" x2="289.8" y2="216.0" stroke="#f7901e" stroke-width="0.9"/>
<circle cx="209.30" cy="160.15" r="1.35" fill="#f7901e"/>
<circle cx="248.55" cy="180.60" r="1.35" fill="#f7901e"/>
<circle cx="287.80" cy="212.80" r="1.35" fill="#f7901e"/>
<circle cx="327.05" cy="219.80" r="1.35" fill="#f7901e"/>
<path d="M209.30 160.15 L248.55 213.90 L287.80 231.80 L327.05 234.20" fill="none" stroke="#3aaa4a" stroke-width="1.05" stroke-linejoin="round"/>
<line x1="248.55" y1="205.7" x2="248.55" y2="223.5" stroke="#3aaa4a" stroke-width="0.9"/>
<line x1="246.55" y1="205.7" x2="250.55" y2="205.7" stroke="#3aaa4a" stroke-width="0.9"/>
<line x1="246.55" y1="223.5" x2="250.55" y2="223.5" stroke="#3aaa4a" stroke-width="0.9"/>
<line x1="287.8" y1="230.0" x2="287.8" y2="233.5" stroke="#3aaa4a" stroke-width="0.9"/>
<line x1="285.8" y1="230.0" x2="289.8" y2="230.0" stroke="#3aaa4a" stroke-width="0.9"/>
<line x1="285.8" y1="233.5" x2="289.8" y2="233.5" stroke="#3aaa4a" stroke-width="0.9"/>
<circle cx="209.30" cy="160.15" r="1.35" fill="#3aaa4a"/>
<circle cx="248.55" cy="213.90" r="1.35" fill="#3aaa4a"/>
<circle cx="287.80" cy="231.80" r="1.35" fill="#3aaa4a"/>
<circle cx="327.05" cy="234.20" r="1.35" fill="#3aaa4a"/>
<line x1="296.5" y1="146.2" x2="306.6" y2="146.2" stroke="#1d4f8c" stroke-width="1.2"/>
<circle cx="301.55" cy="146.2" r="1.35" fill="#1d4f8c"/>
<text x="309.0" y="148.95" font-size="7.9" textLength="24.7" lengthAdjust="spacingAndGlyphs" fill="#231f20">Control</text>
<line x1="296.5" y1="153.5" x2="306.6" y2="153.5" stroke="#f9b732" stroke-width="1.2"/>
<circle cx="301.55" cy="153.5" r="1.35" fill="#f9b732"/>
<text x="309.0" y="156.25" font-size="7.9" textLength="8.2" lengthAdjust="spacingAndGlyphs" fill="#231f20">P1</text>
<line x1="296.5" y1="160.6" x2="306.6" y2="160.6" stroke="#f7901e" stroke-width="1.2"/>
<circle cx="301.55" cy="160.6" r="1.35" fill="#f7901e"/>
<text x="309.0" y="163.35" font-size="7.9" textLength="8.4" lengthAdjust="spacingAndGlyphs" fill="#231f20">P2</text>
<line x1="296.5" y1="167.9" x2="306.6" y2="167.9" stroke="#3aaa4a" stroke-width="1.2"/>
<circle cx="301.55" cy="167.9" r="1.35" fill="#3aaa4a"/>
<text x="309.0" y="170.65" font-size="7.9" textLength="24.7" lengthAdjust="spacingAndGlyphs" fill="#231f20">Control</text>
<text x="309.0" y="177.65" font-size="7.9" textLength="22.0" lengthAdjust="spacingAndGlyphs" fill="#231f20">+ ATRi</text>
<circle cx="252.20" cy="178.40" r="1.25" fill="#231f20"/>
<circle cx="240.00" cy="192.20" r="1.25" fill="#231f20"/>
<circle cx="243.80" cy="192.20" r="1.25" fill="#231f20"/>
<circle cx="233.50" cy="219.40" r="1.25" fill="#231f20"/>
<circle cx="237.30" cy="219.40" r="1.25" fill="#231f20"/>
<circle cx="241.10" cy="219.40" r="1.25" fill="#231f20"/>
<circle cx="244.90" cy="219.40" r="1.25" fill="#231f20"/>
<circle cx="283.00" cy="216.70" r="1.25" fill="#231f20"/>
<circle cx="279.00" cy="233.20" r="1.25" fill="#231f20"/>
<circle cx="282.80" cy="233.20" r="1.25" fill="#231f20"/>
<text x="359.6" y="152.1" font-size="10" font-weight="bold" textLength="6.6" lengthAdjust="spacingAndGlyphs" fill="#231f20">F</text>
<line x1="388.2" y1="239.0" x2="388.2" y2="157.0" stroke="#231f20" stroke-width="1.3"/>
<line x1="387.59999999999997" y1="238.4" x2="509.6" y2="238.4" stroke="#231f20" stroke-width="1.3"/>
<line x1="385.0" y1="160.1" x2="388.2" y2="160.1" stroke="#231f20" stroke-width="1.0"/>
<text x="382.8" y="163.0" font-size="8.2" text-anchor="end" textLength="12.0" lengthAdjust="spacingAndGlyphs" fill="#231f20">100</text>
<line x1="385.0" y1="197.3" x2="388.2" y2="197.3" stroke="#231f20" stroke-width="1.0"/>
<text x="382.8" y="200.20000000000002" font-size="8.2" text-anchor="end" textLength="8.0" lengthAdjust="spacingAndGlyphs" fill="#231f20">10</text>
<line x1="385.0" y1="234.5" x2="388.2" y2="234.5" stroke="#231f20" stroke-width="1.0"/>
<text x="382.8" y="237.4" font-size="8.2" text-anchor="end" textLength="4.0" lengthAdjust="spacingAndGlyphs" fill="#231f20">1</text>
<line x1="386.4" y1="223.3016841612999" x2="388.2" y2="223.3016841612999" stroke="#231f20" stroke-width="0.8"/>
<line x1="386.4" y1="216.75108932442856" x2="388.2" y2="216.75108932442856" stroke="#231f20" stroke-width="0.8"/>
<line x1="386.4" y1="212.1033683225998" x2="388.2" y2="212.1033683225998" stroke="#231f20" stroke-width="0.8"/>
<line x1="386.4" y1="208.4983158387001" x2="388.2" y2="208.4983158387001" stroke="#231f20" stroke-width="0.8"/>
<line x1="386.4" y1="205.55277348572844" x2="388.2" y2="205.55277348572844" stroke="#231f20" stroke-width="0.8"/>
<line x1="386.4" y1="203.06235291146965" x2="388.2" y2="203.06235291146965" stroke="#231f20" stroke-width="0.8"/>
<line x1="386.4" y1="200.90505248389968" x2="388.2" y2="200.90505248389968" stroke="#231f20" stroke-width="0.8"/>
<line x1="386.4" y1="199.00217864885713" x2="388.2" y2="199.00217864885713" stroke="#231f20" stroke-width="0.8"/>
<line x1="386.4" y1="186.1016841612999" x2="388.2" y2="186.1016841612999" stroke="#231f20" stroke-width="0.8"/>
<line x1="386.4" y1="179.55108932442855" x2="388.2" y2="179.55108932442855" stroke="#231f20" stroke-width="0.8"/>
<line x1="386.4" y1="174.9033683225998" x2="388.2" y2="174.9033683225998" stroke="#231f20" stroke-width="0.8"/>
<line x1="386.4" y1="171.2983158387001" x2="388.2" y2="171.2983158387001" stroke="#231f20" stroke-width="0.8"/>
<line x1="386.4" y1="168.35277348572845" x2="388.2" y2="168.35277348572845" stroke="#231f20" stroke-width="0.8"/>
<line x1="386.4" y1="165.86235291146963" x2="388.2" y2="165.86235291146963" stroke="#231f20" stroke-width="0.8"/>
<line x1="386.4" y1="163.7050524838997" x2="388.2" y2="163.7050524838997" stroke="#231f20" stroke-width="0.8"/>
<line x1="386.4" y1="161.8021786488571" x2="388.2" y2="161.8021786488571" stroke="#231f20" stroke-width="0.8"/>
<line x1="388.2" y1="238.4" x2="388.2" y2="241.0" stroke="#231f20" stroke-width="1.0"/>
<text x="388.2" y="250.9" font-size="8.3" text-anchor="middle" textLength="4.15" lengthAdjust="spacingAndGlyphs" fill="#231f20">0</text>
<line x1="417.63" y1="238.4" x2="417.63" y2="241.0" stroke="#231f20" stroke-width="1.0"/>
<text x="417.63" y="250.9" font-size="8.3" text-anchor="middle" textLength="12.450000000000001" lengthAdjust="spacingAndGlyphs" fill="#231f20">100</text>
<line x1="447.06" y1="238.4" x2="447.06" y2="241.0" stroke="#231f20" stroke-width="1.0"/>
<text x="447.06" y="250.9" font-size="8.3" text-anchor="middle" textLength="12.450000000000001" lengthAdjust="spacingAndGlyphs" fill="#231f20">200</text>
<line x1="476.49" y1="238.4" x2="476.49" y2="241.0" stroke="#231f20" stroke-width="1.0"/>
<text x="476.49" y="250.9" font-size="8.3" text-anchor="middle" textLength="12.450000000000001" lengthAdjust="spacingAndGlyphs" fill="#231f20">300</text>
<line x1="505.91999999999996" y1="238.4" x2="505.91999999999996" y2="241.0" stroke="#231f20" stroke-width="1.0"/>
<text x="505.91999999999996" y="250.9" font-size="8.3" text-anchor="middle" textLength="12.450000000000001" lengthAdjust="spacingAndGlyphs" fill="#231f20">400</text>
<text x="0" y="0" font-size="9.0" text-anchor="middle" textLength="35.3" lengthAdjust="spacingAndGlyphs" fill="#231f20" transform="translate(366.4,196.3) rotate(-90)">% Survival</text>
<text x="407.0" y="261.2" font-size="9.2" textLength="84.2" lengthAdjust="spacingAndGlyphs" fill="#231f20">Phleomycin dose (ng/mL)</text>
<path d="M388.20 160.10 L417.63 167.50 L447.06 182.90 L505.92 195.60" fill="none" stroke="#1d4f8c" stroke-width="1.05" stroke-linejoin="round"/>
<line x1="417.63" y1="164.3" x2="417.63" y2="170.8" stroke="#1d4f8c" stroke-width="0.9"/>
<line x1="415.63" y1="164.3" x2="419.63" y2="164.3" stroke="#1d4f8c" stroke-width="0.9"/>
<line x1="415.63" y1="170.8" x2="419.63" y2="170.8" stroke="#1d4f8c" stroke-width="0.9"/>
<circle cx="388.20" cy="160.10" r="1.35" fill="#1d4f8c"/>
<circle cx="417.63" cy="167.50" r="1.35" fill="#1d4f8c"/>
<circle cx="447.06" cy="182.90" r="1.35" fill="#1d4f8c"/>
<circle cx="505.92" cy="195.60" r="1.35" fill="#1d4f8c"/>
<path d="M388.20 160.10 L417.63 181.40 L447.06 205.00 L505.92 214.50" fill="none" stroke="#f7901e" stroke-width="1.05" stroke-linejoin="round"/>
<line x1="417.63" y1="178.5" x2="417.63" y2="184.5" stroke="#f7901e" stroke-width="0.9"/>
<line x1="415.63" y1="178.5" x2="419.63" y2="178.5" stroke="#f7901e" stroke-width="0.9"/>
<line x1="415.63" y1="184.5" x2="419.63" y2="184.5" stroke="#f7901e" stroke-width="0.9"/>
<line x1="447.06" y1="201.5" x2="447.06" y2="208.0" stroke="#f7901e" stroke-width="0.9"/>
<line x1="445.06" y1="201.5" x2="449.06" y2="201.5" stroke="#f7901e" stroke-width="0.9"/>
<line x1="445.06" y1="208.0" x2="449.06" y2="208.0" stroke="#f7901e" stroke-width="0.9"/>
<line x1="505.91999999999996" y1="211.5" x2="505.91999999999996" y2="220.2" stroke="#f7901e" stroke-width="0.9"/>
<line x1="503.91999999999996" y1="211.5" x2="507.91999999999996" y2="211.5" stroke="#f7901e" stroke-width="0.9"/>
<line x1="503.91999999999996" y1="220.2" x2="507.91999999999996" y2="220.2" stroke="#f7901e" stroke-width="0.9"/>
<circle cx="388.20" cy="160.10" r="1.35" fill="#f7901e"/>
<circle cx="417.63" cy="181.40" r="1.35" fill="#f7901e"/>
<circle cx="447.06" cy="205.00" r="1.35" fill="#f7901e"/>
<circle cx="505.92" cy="214.50" r="1.35" fill="#f7901e"/>
<path d="M388.20 160.10 L417.63 189.50 L447.06 202.60 L505.92 212.60" fill="none" stroke="#f9b732" stroke-width="1.05" stroke-linejoin="round"/>
<line x1="417.63" y1="179.0" x2="417.63" y2="200.7" stroke="#f9b732" stroke-width="0.9"/>
<line x1="415.63" y1="179.0" x2="419.63" y2="179.0" stroke="#f9b732" stroke-width="0.9"/>
<line x1="415.63" y1="200.7" x2="419.63" y2="200.7" stroke="#f9b732" stroke-width="0.9"/>
<line x1="447.06" y1="196.8" x2="447.06" y2="208.8" stroke="#f9b732" stroke-width="0.9"/>
<line x1="445.06" y1="196.8" x2="449.06" y2="196.8" stroke="#f9b732" stroke-width="0.9"/>
<line x1="445.06" y1="208.8" x2="449.06" y2="208.8" stroke="#f9b732" stroke-width="0.9"/>
<line x1="505.91999999999996" y1="210.6" x2="505.91999999999996" y2="216.0" stroke="#f9b732" stroke-width="0.9"/>
<line x1="503.91999999999996" y1="210.6" x2="507.91999999999996" y2="210.6" stroke="#f9b732" stroke-width="0.9"/>
<line x1="503.91999999999996" y1="216.0" x2="507.91999999999996" y2="216.0" stroke="#f9b732" stroke-width="0.9"/>
<circle cx="388.20" cy="160.10" r="1.35" fill="#f9b732"/>
<circle cx="417.63" cy="189.50" r="1.35" fill="#f9b732"/>
<circle cx="447.06" cy="202.60" r="1.35" fill="#f9b732"/>
<circle cx="505.92" cy="212.60" r="1.35" fill="#f9b732"/>
<path d="M388.20 160.10 L417.63 212.80 L447.06 228.60 L505.92 233.00" fill="none" stroke="#3aaa4a" stroke-width="1.05" stroke-linejoin="round"/>
<line x1="417.63" y1="208.8" x2="417.63" y2="217.0" stroke="#3aaa4a" stroke-width="0.9"/>
<line x1="415.63" y1="208.8" x2="419.63" y2="208.8" stroke="#3aaa4a" stroke-width="0.9"/>
<line x1="415.63" y1="217.0" x2="419.63" y2="217.0" stroke="#3aaa4a" stroke-width="0.9"/>
<line x1="447.06" y1="224.4" x2="447.06" y2="234.0" stroke="#3aaa4a" stroke-width="0.9"/>
<line x1="445.06" y1="224.4" x2="449.06" y2="224.4" stroke="#3aaa4a" stroke-width="0.9"/>
<line x1="445.06" y1="234.0" x2="449.06" y2="234.0" stroke="#3aaa4a" stroke-width="0.9"/>
<line x1="505.91999999999996" y1="229.0" x2="505.91999999999996" y2="236.4" stroke="#3aaa4a" stroke-width="0.9"/>
<line x1="503.91999999999996" y1="229.0" x2="507.91999999999996" y2="229.0" stroke="#3aaa4a" stroke-width="0.9"/>
<line x1="503.91999999999996" y1="236.4" x2="507.91999999999996" y2="236.4" stroke="#3aaa4a" stroke-width="0.9"/>
<circle cx="388.20" cy="160.10" r="1.35" fill="#3aaa4a"/>
<circle cx="417.63" cy="212.80" r="1.35" fill="#3aaa4a"/>
<circle cx="447.06" cy="228.60" r="1.35" fill="#3aaa4a"/>
<circle cx="505.92" cy="233.00" r="1.35" fill="#3aaa4a"/>
<line x1="461.7" y1="146.2" x2="471.4" y2="146.2" stroke="#1d4f8c" stroke-width="1.2"/>
<circle cx="466.55" cy="146.2" r="1.35" fill="#1d4f8c"/>
<text x="473.8" y="148.95" font-size="7.9" textLength="24.7" lengthAdjust="spacingAndGlyphs" fill="#231f20">Control</text>
<line x1="461.7" y1="153.5" x2="471.4" y2="153.5" stroke="#f9b732" stroke-width="1.2"/>
<circle cx="466.55" cy="153.5" r="1.35" fill="#f9b732"/>
<text x="473.8" y="156.25" font-size="7.9" textLength="8.2" lengthAdjust="spacingAndGlyphs" fill="#231f20">P1</text>
<line x1="461.7" y1="161.0" x2="471.4" y2="161.0" stroke="#f7901e" stroke-width="1.2"/>
<circle cx="466.55" cy="161.0" r="1.35" fill="#f7901e"/>
<text x="473.8" y="163.75" font-size="7.9" textLength="8.4" lengthAdjust="spacingAndGlyphs" fill="#231f20">P2</text>
<line x1="461.7" y1="167.9" x2="471.4" y2="167.9" stroke="#3aaa4a" stroke-width="1.2"/>
<circle cx="466.55" cy="167.9" r="1.35" fill="#3aaa4a"/>
<text x="473.8" y="170.65" font-size="7.9" textLength="36.0" lengthAdjust="spacingAndGlyphs" fill="#231f20">Cernunnos</text>
<circle cx="423.00" cy="180.00" r="1.25" fill="#231f20"/>
<circle cx="426.80" cy="180.00" r="1.25" fill="#231f20"/>
<circle cx="408.60" cy="190.00" r="1.25" fill="#231f20"/>
<circle cx="412.40" cy="190.00" r="1.25" fill="#231f20"/>
<circle cx="404.00" cy="213.90" r="1.25" fill="#231f20"/>
<circle cx="407.80" cy="213.90" r="1.25" fill="#231f20"/>
<circle cx="411.60" cy="213.90" r="1.25" fill="#231f20"/>
<circle cx="452.20" cy="197.60" r="1.25" fill="#231f20"/>
<circle cx="456.00" cy="197.60" r="1.25" fill="#231f20"/>
<circle cx="459.80" cy="197.60" r="1.25" fill="#231f20"/>
<circle cx="448.60" cy="213.40" r="1.25" fill="#231f20"/>
<circle cx="452.40" cy="213.40" r="1.25" fill="#231f20"/>
<circle cx="456.20" cy="213.40" r="1.25" fill="#231f20"/>
<circle cx="460.00" cy="213.40" r="1.25" fill="#231f20"/>
<circle cx="431.00" cy="231.80" r="1.25" fill="#231f20"/>
<circle cx="434.80" cy="231.80" r="1.25" fill="#231f20"/>
<circle cx="438.60" cy="231.80" r="1.25" fill="#231f20"/>
<circle cx="442.40" cy="231.80" r="1.25" fill="#231f20"/>
<circle cx="500.00" cy="207.00" r="1.25" fill="#231f20"/>
<circle cx="503.80" cy="207.00" r="1.25" fill="#231f20"/>
<circle cx="507.60" cy="207.00" r="1.25" fill="#231f20"/>
<circle cx="511.40" cy="207.00" r="1.25" fill="#231f20"/>
<circle cx="493.60" cy="218.50" r="1.25" fill="#231f20"/>
<circle cx="497.40" cy="218.50" r="1.25" fill="#231f20"/>
<circle cx="501.20" cy="218.50" r="1.25" fill="#231f20"/>
<circle cx="500.00" cy="226.30" r="1.25" fill="#231f20"/>
<circle cx="503.80" cy="226.30" r="1.25" fill="#231f20"/>
<circle cx="507.60" cy="226.30" r="1.25" fill="#231f20"/>
<circle cx="511.40" cy="226.30" r="1.25" fill="#231f20"/>
<text x="27.2" y="291.3" font-size="10" font-weight="bold" textLength="9.2" lengthAdjust="spacingAndGlyphs" fill="#231f20">G</text>
<text x="65.9" y="326.0" font-size="8.0" textLength="9.3" lengthAdjust="spacingAndGlyphs" fill="#231f20">P2</text>
<circle cx="70.7" cy="360.0" r="30.4" fill="none" stroke="#f1a441" stroke-width="1.7"/>
<line x1="46.5" y1="354.4" x2="94.7" y2="354.4" stroke="#222" stroke-width="1.2"/>
<line x1="46.5" y1="373.3" x2="94.7" y2="373.3" stroke="#222" stroke-width="1.2"/>
<text x="49.3" y="348.5" font-size="8.0" textLength="21.1" lengthAdjust="spacingAndGlyphs" fill="#231f20">L142S</text>
<text x="72.6" y="350.3" font-size="8.0" font-style="italic" textLength="22.7" lengthAdjust="spacingAndGlyphs" fill="#231f20">Apollo</text>
<text x="49.3" y="366.9" font-size="8.0" textLength="21.1" lengthAdjust="spacingAndGlyphs" fill="#231f20">L142S</text>
<line x1="56.6" y1="350.5" x2="62.199999999999996" y2="358.29999999999995" stroke="#f0a030" stroke-width="1.0"/>
<line x1="56.6" y1="358.29999999999995" x2="62.199999999999996" y2="350.5" stroke="#f0a030" stroke-width="1.0"/>
<line x1="57.5" y1="369.40000000000003" x2="63.099999999999994" y2="377.2" stroke="#f0a030" stroke-width="1.0"/>
<line x1="57.5" y1="377.2" x2="63.099999999999994" y2="369.40000000000003" stroke="#f0a030" stroke-width="1.0"/>
<text x="128.2" y="307.6" font-size="7.4" textLength="16.7" lengthAdjust="spacingAndGlyphs" fill="#231f20">Cas9</text>
<text x="115.5" y="317.5" font-size="7.4" textLength="43.5" lengthAdjust="spacingAndGlyphs" fill="#231f20">+ RNAguide</text>
<text x="92.9" y="327.3" font-size="7.4" fill="#231f20" textLength="88.3" lengthAdjust="spacingAndGlyphs">+ WT Apollo DNA matrix</text>
<text x="131.2" y="338.6" font-size="7.4" textLength="11.3" lengthAdjust="spacingAndGlyphs" fill="#231f20">WT</text>
<line x1="114.5" y1="342.5" x2="159.6" y2="342.5" stroke="#3aaa4a" stroke-width="1.2"/>
<path d="M134.3 349.6 C134.3 355.5 140 357.2 147.5 358.2" fill="none" stroke="#231f20" stroke-width="0.9"/>
<line x1="109.2" y1="358.4" x2="180.5" y2="358.4" stroke="#231f20" stroke-width="1.2"/>
<path d="M179.5 355.6 L184.6 358.4 L179.5 361.2 Z" fill="#231f20"/>
<text x="105.0" y="368.8" font-size="7.4" textLength="83.0" lengthAdjust="spacingAndGlyphs" fill="#231f20">CRISPR/Cas9-mediated</text>
<text x="116.9" y="378.5" font-size="7.4" textLength="59.6" lengthAdjust="spacingAndGlyphs" fill="#231f20">correction of one</text>
<text x="109.2" y="388.1" font-size="7.4" fill="#231f20" textLength="76.0" lengthAdjust="spacingAndGlyphs">Apollo mutated allele</text>
<text x="205.3" y="325.8" font-size="8.0" textLength="9.0" lengthAdjust="spacingAndGlyphs" fill="#231f20">P2</text>
<text x="214.0" y="322.2" font-size="5.2" textLength="26.0" lengthAdjust="spacingAndGlyphs" fill="#231f20" style="stroke-width:0">L142S/WT</text>
<circle cx="223.0" cy="360.0" r="30.4" fill="none" stroke="#3aaa4a" stroke-width="1.7"/>
<line x1="199.0" y1="354.2" x2="246.6" y2="354.2" stroke="#222" stroke-width="1.2"/>
<line x1="199.0" y1="373.1" x2="246.6" y2="373.1" stroke="#222" stroke-width="1.2"/>
<line x1="207.5" y1="373.1" x2="224.3" y2="373.1" stroke="#4a8a4a" stroke-width="1.2"/>
<text x="201.6" y="347.9" font-size="8.0" textLength="21.1" lengthAdjust="spacingAndGlyphs" fill="#231f20">L142S</text>
<text x="224.2" y="351.5" font-size="8.0" font-style="italic" textLength="23.3" lengthAdjust="spacingAndGlyphs" fill="#231f20">Apollo</text>
<text x="206.5" y="366.7" font-size="8.0" textLength="11.5" lengthAdjust="spacingAndGlyphs" fill="#231f20">WT</text>
<line x1="208.6" y1="350.3" x2="214.20000000000002" y2="358.09999999999997" stroke="#f0a030" stroke-width="1.0"/>
<line x1="208.6" y1="358.09999999999997" x2="214.20000000000002" y2="350.3" stroke="#f0a030" stroke-width="1.0"/>
<text x="294.9" y="290.6" font-size="10" font-weight="bold" textLength="7.6" lengthAdjust="spacingAndGlyphs" fill="#231f20">H</text>
<line x1="326.0" y1="377.6" x2="326.0" y2="297.5" stroke="#231f20" stroke-width="1.3"/>
<line x1="325.4" y1="377.0" x2="447.0" y2="377.0" stroke="#231f20" stroke-width="1.3"/>
<line x1="323.2" y1="299.6" x2="326.0" y2="299.6" stroke="#231f20" stroke-width="1.0"/>
<text x="320.3" y="302.5" font-size="8.4" text-anchor="end" fill="#231f20">100</text>
<line x1="323.2" y1="376.90000000000003" x2="326.0" y2="376.90000000000003" stroke="#231f20" stroke-width="1.0"/>
<text x="320.3" y="379.8" font-size="8.4" text-anchor="end" fill="#231f20">10</text>
<line x1="324.2" y1="353.63038133517426" x2="326.0" y2="353.63038133517426" stroke="#231f20" stroke-width="0.8"/>
<line x1="324.2" y1="340.01852701017015" x2="326.0" y2="340.01852701017015" stroke="#231f20" stroke-width="0.8"/>
<line x1="324.2" y1="330.36076267034855" x2="326.0" y2="330.36076267034855" stroke="#231f20" stroke-width="0.8"/>
<line x1="324.2" y1="322.8696186648258" x2="326.0" y2="322.8696186648258" stroke="#231f20" stroke-width="0.8"/>
<line x1="324.2" y1="316.7489083453444" x2="326.0" y2="316.7489083453444" stroke="#231f20" stroke-width="0.8"/>
<line x1="324.2" y1="311.573921506898" x2="326.0" y2="311.573921506898" stroke="#231f20" stroke-width="0.8"/>
<line x1="324.2" y1="307.0911440055228" x2="326.0" y2="307.0911440055228" stroke="#231f20" stroke-width="0.8"/>
<line x1="324.2" y1="303.1370540203402" x2="326.0" y2="303.1370540203402" stroke="#231f20" stroke-width="0.8"/>
<line x1="326.0" y1="377.0" x2="326.0" y2="379.6" stroke="#231f20" stroke-width="1.0"/>
<text x="326.0" y="389.1" font-size="7.9" text-anchor="middle" fill="#231f20">0</text>
<line x1="355.4" y1="377.0" x2="355.4" y2="379.6" stroke="#231f20" stroke-width="1.0"/>
<text x="355.4" y="389.1" font-size="7.9" text-anchor="middle" fill="#231f20">100</text>
<line x1="384.8" y1="377.0" x2="384.8" y2="379.6" stroke="#231f20" stroke-width="1.0"/>
<text x="384.8" y="389.1" font-size="7.9" text-anchor="middle" fill="#231f20">200</text>
<line x1="414.2" y1="377.0" x2="414.2" y2="379.6" stroke="#231f20" stroke-width="1.0"/>
<text x="414.2" y="389.1" font-size="7.9" text-anchor="middle" fill="#231f20">300</text>
<line x1="443.6" y1="377.0" x2="443.6" y2="379.6" stroke="#231f20" stroke-width="1.0"/>
<text x="443.6" y="389.1" font-size="7.9" text-anchor="middle" fill="#231f20">400</text>
<text x="0" y="0" font-size="8.8" text-anchor="middle" textLength="33.6" lengthAdjust="spacingAndGlyphs" fill="#231f20" transform="translate(303.4,335.7) rotate(-90)">% Survival</text>
<text x="344.4" y="399.7" font-size="9.2" textLength="86.4" lengthAdjust="spacingAndGlyphs" fill="#231f20">Phleomycin dose (ng/mL)</text>
<path d="M326.00 299.60 L355.40 320.50 L384.80 354.80 L443.60 366.10" fill="none" stroke="#f7901e" stroke-width="1.05" stroke-linejoin="round"/>
<line x1="355.4" y1="317.5" x2="355.4" y2="323.4" stroke="#f7901e" stroke-width="0.9"/>
<line x1="353.4" y1="317.5" x2="357.4" y2="317.5" stroke="#f7901e" stroke-width="0.9"/>
<line x1="353.4" y1="323.4" x2="357.4" y2="323.4" stroke="#f7901e" stroke-width="0.9"/>
<line x1="384.8" y1="347.6" x2="384.8" y2="365.4" stroke="#f7901e" stroke-width="0.9"/>
<line x1="382.8" y1="347.6" x2="386.8" y2="347.6" stroke="#f7901e" stroke-width="0.9"/>
<line x1="382.8" y1="365.4" x2="386.8" y2="365.4" stroke="#f7901e" stroke-width="0.9"/>
<line x1="443.6" y1="362.2" x2="443.6" y2="369.0" stroke="#f7901e" stroke-width="0.9"/>
<line x1="441.6" y1="362.2" x2="445.6" y2="362.2" stroke="#f7901e" stroke-width="0.9"/>
<line x1="441.6" y1="369.0" x2="445.6" y2="369.0" stroke="#f7901e" stroke-width="0.9"/>
<circle cx="326.00" cy="299.60" r="1.35" fill="#f7901e"/>
<circle cx="355.40" cy="320.50" r="1.35" fill="#f7901e"/>
<circle cx="384.80" cy="354.80" r="1.35" fill="#f7901e"/>
<circle cx="443.60" cy="366.10" r="1.35" fill="#f7901e"/>
<path d="M326.00 299.60 L355.40 303.20 L384.80 321.30 L443.60 357.30" fill="none" stroke="#3aaa4a" stroke-width="1.05" stroke-linejoin="round"/>
<line x1="384.8" y1="318.7" x2="384.8" y2="326.5" stroke="#3aaa4a" stroke-width="0.9"/>
<line x1="382.8" y1="318.7" x2="386.8" y2="318.7" stroke="#3aaa4a" stroke-width="0.9"/>
<line x1="382.8" y1="326.5" x2="386.8" y2="326.5" stroke="#3aaa4a" stroke-width="0.9"/>
<line x1="443.6" y1="354.3" x2="443.6" y2="360.2" stroke="#3aaa4a" stroke-width="0.9"/>
<line x1="441.6" y1="354.3" x2="445.6" y2="354.3" stroke="#3aaa4a" stroke-width="0.9"/>
<line x1="441.6" y1="360.2" x2="445.6" y2="360.2" stroke="#3aaa4a" stroke-width="0.9"/>
<circle cx="326.00" cy="299.60" r="1.35" fill="#3aaa4a"/>
<circle cx="355.40" cy="303.20" r="1.35" fill="#3aaa4a"/>
<circle cx="384.80" cy="321.30" r="1.35" fill="#3aaa4a"/>
<circle cx="443.60" cy="357.30" r="1.35" fill="#3aaa4a"/>
<path d="M326.00 299.60 L355.40 302.30 L384.80 313.50 L443.60 342.90" fill="none" stroke="#1d4f8c" stroke-width="1.05" stroke-linejoin="round"/>
<line x1="326.0" y1="297.5" x2="326.0" y2="301.7" stroke="#1d4f8c" stroke-width="0.9"/>
<line x1="324.0" y1="297.5" x2="328.0" y2="297.5" stroke="#1d4f8c" stroke-width="0.9"/>
<line x1="324.0" y1="301.7" x2="328.0" y2="301.7" stroke="#1d4f8c" stroke-width="0.9"/>
<line x1="355.4" y1="300.3" x2="355.4" y2="304.3" stroke="#1d4f8c" stroke-width="0.9"/>
<line x1="353.4" y1="300.3" x2="357.4" y2="300.3" stroke="#1d4f8c" stroke-width="0.9"/>
<line x1="353.4" y1="304.3" x2="357.4" y2="304.3" stroke="#1d4f8c" stroke-width="0.9"/>
<line x1="384.8" y1="309.2" x2="384.8" y2="318.7" stroke="#1d4f8c" stroke-width="0.9"/>
<line x1="382.8" y1="309.2" x2="386.8" y2="309.2" stroke="#1d4f8c" stroke-width="0.9"/>
<line x1="382.8" y1="318.7" x2="386.8" y2="318.7" stroke="#1d4f8c" stroke-width="0.9"/>
<line x1="443.6" y1="336.7" x2="443.6" y2="351.4" stroke="#1d4f8c" stroke-width="0.9"/>
<line x1="441.6" y1="336.7" x2="445.6" y2="336.7" stroke="#1d4f8c" stroke-width="0.9"/>
<line x1="441.6" y1="351.4" x2="445.6" y2="351.4" stroke="#1d4f8c" stroke-width="0.9"/>
<circle cx="326.00" cy="299.60" r="1.35" fill="#1d4f8c"/>
<circle cx="355.40" cy="302.30" r="1.35" fill="#1d4f8c"/>
<circle cx="384.80" cy="313.50" r="1.35" fill="#1d4f8c"/>
<circle cx="443.60" cy="342.90" r="1.35" fill="#1d4f8c"/>
<line x1="416.2" y1="285.0" x2="425.8" y2="285.0" stroke="#1d4f8c" stroke-width="1.2"/>
<circle cx="421.00" cy="285.0" r="1.35" fill="#1d4f8c"/>
<text x="428.9" y="287.75" font-size="7.9" textLength="24.9" lengthAdjust="spacingAndGlyphs" fill="#231f20">Control</text>
<line x1="416.2" y1="298.7" x2="425.8" y2="298.7" stroke="#f7901e" stroke-width="1.2"/>
<circle cx="421.0" cy="298.7" r="1.35" fill="#f7901e"/>
<text x="428.9" y="301.7" font-size="8.6" textLength="8.6" lengthAdjust="spacingAndGlyphs" fill="#231f20">P2</text>
<text x="437.6" y="297.3" font-size="5.2" textLength="33.0" lengthAdjust="spacingAndGlyphs" fill="#231f20" style="stroke-width:0">L142/S/L142S</text>
<line x1="416.2" y1="312.2" x2="425.8" y2="312.2" stroke="#3aaa4a" stroke-width="1.2"/>
<circle cx="421.0" cy="312.2" r="1.35" fill="#3aaa4a"/>
<text x="428.9" y="315.2" font-size="8.6" textLength="8.6" lengthAdjust="spacingAndGlyphs" fill="#231f20">P2</text>
<text x="437.6" y="310.8" font-size="5.2" textLength="24.6" lengthAdjust="spacingAndGlyphs" fill="#231f20" style="stroke-width:0">L142S/WT</text>
<text x="343.7" y="310.1" font-size="7.0" textLength="8.4" lengthAdjust="spacingAndGlyphs" fill="#231f20">NS</text>
<text x="372.8" y="327.7" font-size="7.0" textLength="8.6" lengthAdjust="spacingAndGlyphs" fill="#231f20">NS</text>
<circle cx="351.20" cy="330.80" r="1.25" fill="#231f20"/>
<circle cx="355.00" cy="330.80" r="1.25" fill="#231f20"/>
<circle cx="358.80" cy="330.80" r="1.25" fill="#231f20"/>
<circle cx="376.20" cy="358.30" r="1.25" fill="#231f20"/>
<circle cx="380.00" cy="358.30" r="1.25" fill="#231f20"/>
<rect x="0" y="0" width="1.1" height="408" fill="#000"/><rect x="0" y="0" width="520" height="1.1" fill="#000"/><rect x="518.8" y="0" width="1.2" height="408" fill="#000"/><rect x="0" y="406.8" width="520" height="1.2" fill="#000"/>
</svg>
</body></html>
